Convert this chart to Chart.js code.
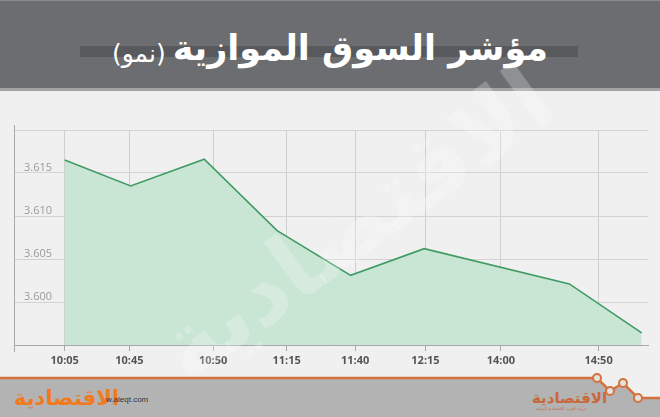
<!DOCTYPE html>
<html>
<head>
<meta charset="utf-8">
<script src="https://cdn.jsdelivr.net/npm/chart.js@4"></script>
<style>
  html,body{margin:0;padding:0;}
  body{width:660px;height:417px;background:#f0f0f0;position:relative;overflow:hidden;font-family:"DejaVu Sans",sans-serif;}
  #hdr{position:absolute;left:0;top:0;width:660px;height:87px;background:#6c6d71;border-bottom:3px solid #a3a3a5;border-top:1px solid #8a8b8e;box-sizing:content-box;}
  #bar{position:absolute;left:80px;top:46px;width:498px;height:11px;background:#58595c;}
  #title{position:absolute;right:112px;top:26px;color:#fff;font-weight:bold;font-size:35px;direction:rtl;white-space:nowrap;line-height:44px;}
  #title span{font-weight:normal;font-size:25px;margin-right:7px;position:relative;top:2px;}
  #ftr{position:absolute;left:0;top:0;}
  #logoL{position:absolute;left:14px;top:385px;color:#f07a1e;font-weight:bold;font-size:21px;direction:rtl;line-height:26px;}
  #url{position:absolute;left:106px;top:395px;color:#333;font-size:8px;font-family:"Liberation Sans",sans-serif;}
  #logoR{position:absolute;left:532px;top:389px;color:#c8683a;font-weight:bold;font-size:15px;direction:rtl;line-height:18px;}
  #logoRs{position:absolute;left:536px;top:406px;color:#c8683a;font-size:4px;direction:rtl;}
  #wm{position:absolute;left:125px;top:170px;color:rgba(255,255,255,0.24);font-weight:bold;font-size:92px;direction:rtl;transform:rotate(-36deg);transform-origin:center;white-space:nowrap;pointer-events:none;}
  canvas{position:absolute;left:0;top:0;}
</style>
</head>
<body>
<div id="hdr"></div>
<div id="bar"></div>
<div id="title">مؤشر السوق الموازية<span>(نمو)</span></div>
<svg id="ftr" width="660" height="417">
  <polygon points="0,378 597,378 610,391 623,383 638,398 660,398 660,417 0,417" fill="#b3b3b3"/>
  <polyline points="0,378 597,378 610,391 623,383 638,398 660,398" fill="none" stroke="#d5713c" stroke-width="2.5"/>
  <circle cx="597" cy="378" r="4" fill="#e4e0de" stroke="#d5713c" stroke-width="2"/>
  <circle cx="610" cy="391" r="4" fill="#e4e0de" stroke="#d5713c" stroke-width="2"/>
  <circle cx="623" cy="383" r="4" fill="#e4e0de" stroke="#d5713c" stroke-width="2"/>
  <circle cx="638" cy="398" r="4" fill="#e4e0de" stroke="#d5713c" stroke-width="2"/>
</svg>
<div id="logoL">الاقتصادية</div>
<div id="url">w.aleqt.com</div>
<div id="logoR">الاقتصادية</div>
<div id="logoRs">جريدة العرب الاقتصادية الدولية</div>
<canvas id="c" width="660" height="417"></canvas>
<div id="wm">الاقتصادية</div>
<script>
// Data
const pointPos = [8.0, 18.4, 30.0, 41.5, 53.1, 64.7, 87.6, 99.0];
const values   = [3.6165, 3.6135, 3.6166, 3.6083, 3.6031, 3.6062, 3.6021, 3.5964];
const tickPos    = [8.0, 18.2, 31.4, 43.0, 53.8, 64.9, 76.8, 92.2];
const tickLabels = ['10:05','10:45','10:50','11:15','11:40','12:15','14:00','14:50'];
const yTicks = [3.600, 3.605, 3.610, 3.615];

const points = pointPos.map((x, i) => ({x: x, y: values[i]}));

const axisExt = {
  id: 'axisExt',
  afterDraw(chart) {
    const {ctx, chartArea} = chart;
    ctx.save();
    ctx.strokeStyle = '#a8a8a8';
    ctx.lineWidth = 1;
    ctx.beginPath();
    ctx.moveTo(chartArea.left + 0.5, chartArea.top - 5);
    ctx.lineTo(chartArea.left + 0.5, chartArea.bottom + 7);
    ctx.stroke();
    ctx.restore();
  }
};

new Chart(document.getElementById('c'), {
  type: 'line',
  data: {
    datasets: [{
      data: points,
      borderColor: '#3f9b64',
      borderWidth: 1.6,
      backgroundColor: '#c9e5d4',
      fill: 'start',
      pointRadius: 0,
      tension: 0
    }]
  },
  options: {
    responsive: false,
    animation: false,
    layout: {padding: {top: 130, left: 14, right: 12, bottom: 0}},
    plugins: {legend: {display: false}, tooltip: {enabled: false}},
    scales: {
      x: {
        type: 'linear',
        min: 0, max: 100,
        afterFit(s) { s.height = 72; },
        afterBuildTicks(s) { s.ticks = tickPos.map(v => ({value: v})); },
        ticks: {
          autoSkip: false,
          maxRotation: 0,
          color: '#555',
          font: {family: 'Open Sans', size: 11, weight: 'bold'},
          padding: 3,
          callback: (v) => { const i = tickPos.indexOf(v); return i >= 0 ? tickLabels[i] : ''; }
        },
        grid: {color: '#cfcfcf', tickColor: '#a8a8a8', tickLength: 6, lineWidth: 1},
        border: {color: '#a8a8a8', width: 1}
      },
      y: {
        min: 3.595, max: 3.620,
        afterFit(s) { s.width = 0; },
        afterBuildTicks(s) { s.ticks = [3.595, 3.600, 3.605, 3.610, 3.615, 3.620].map(v => ({value: v})); },
        ticks: {
          mirror: true,
          padding: 10,
          labelOffset: -5,
          color: '#9a9a9a',
          font: {family: 'Open Sans', size: 11},
          callback: (v) => { const t = yTicks.find(k => Math.abs(k - v) < 1e-9); return t !== undefined ? t.toFixed(3) : ''; }
        },
        grid: {color: '#d2d2d2', drawTicks: false, lineWidth: 1},
        border: {color: '#a8a8a8', width: 1}
      }
    }
  },
  plugins: [axisExt]
});
</script>
</body>
</html>
